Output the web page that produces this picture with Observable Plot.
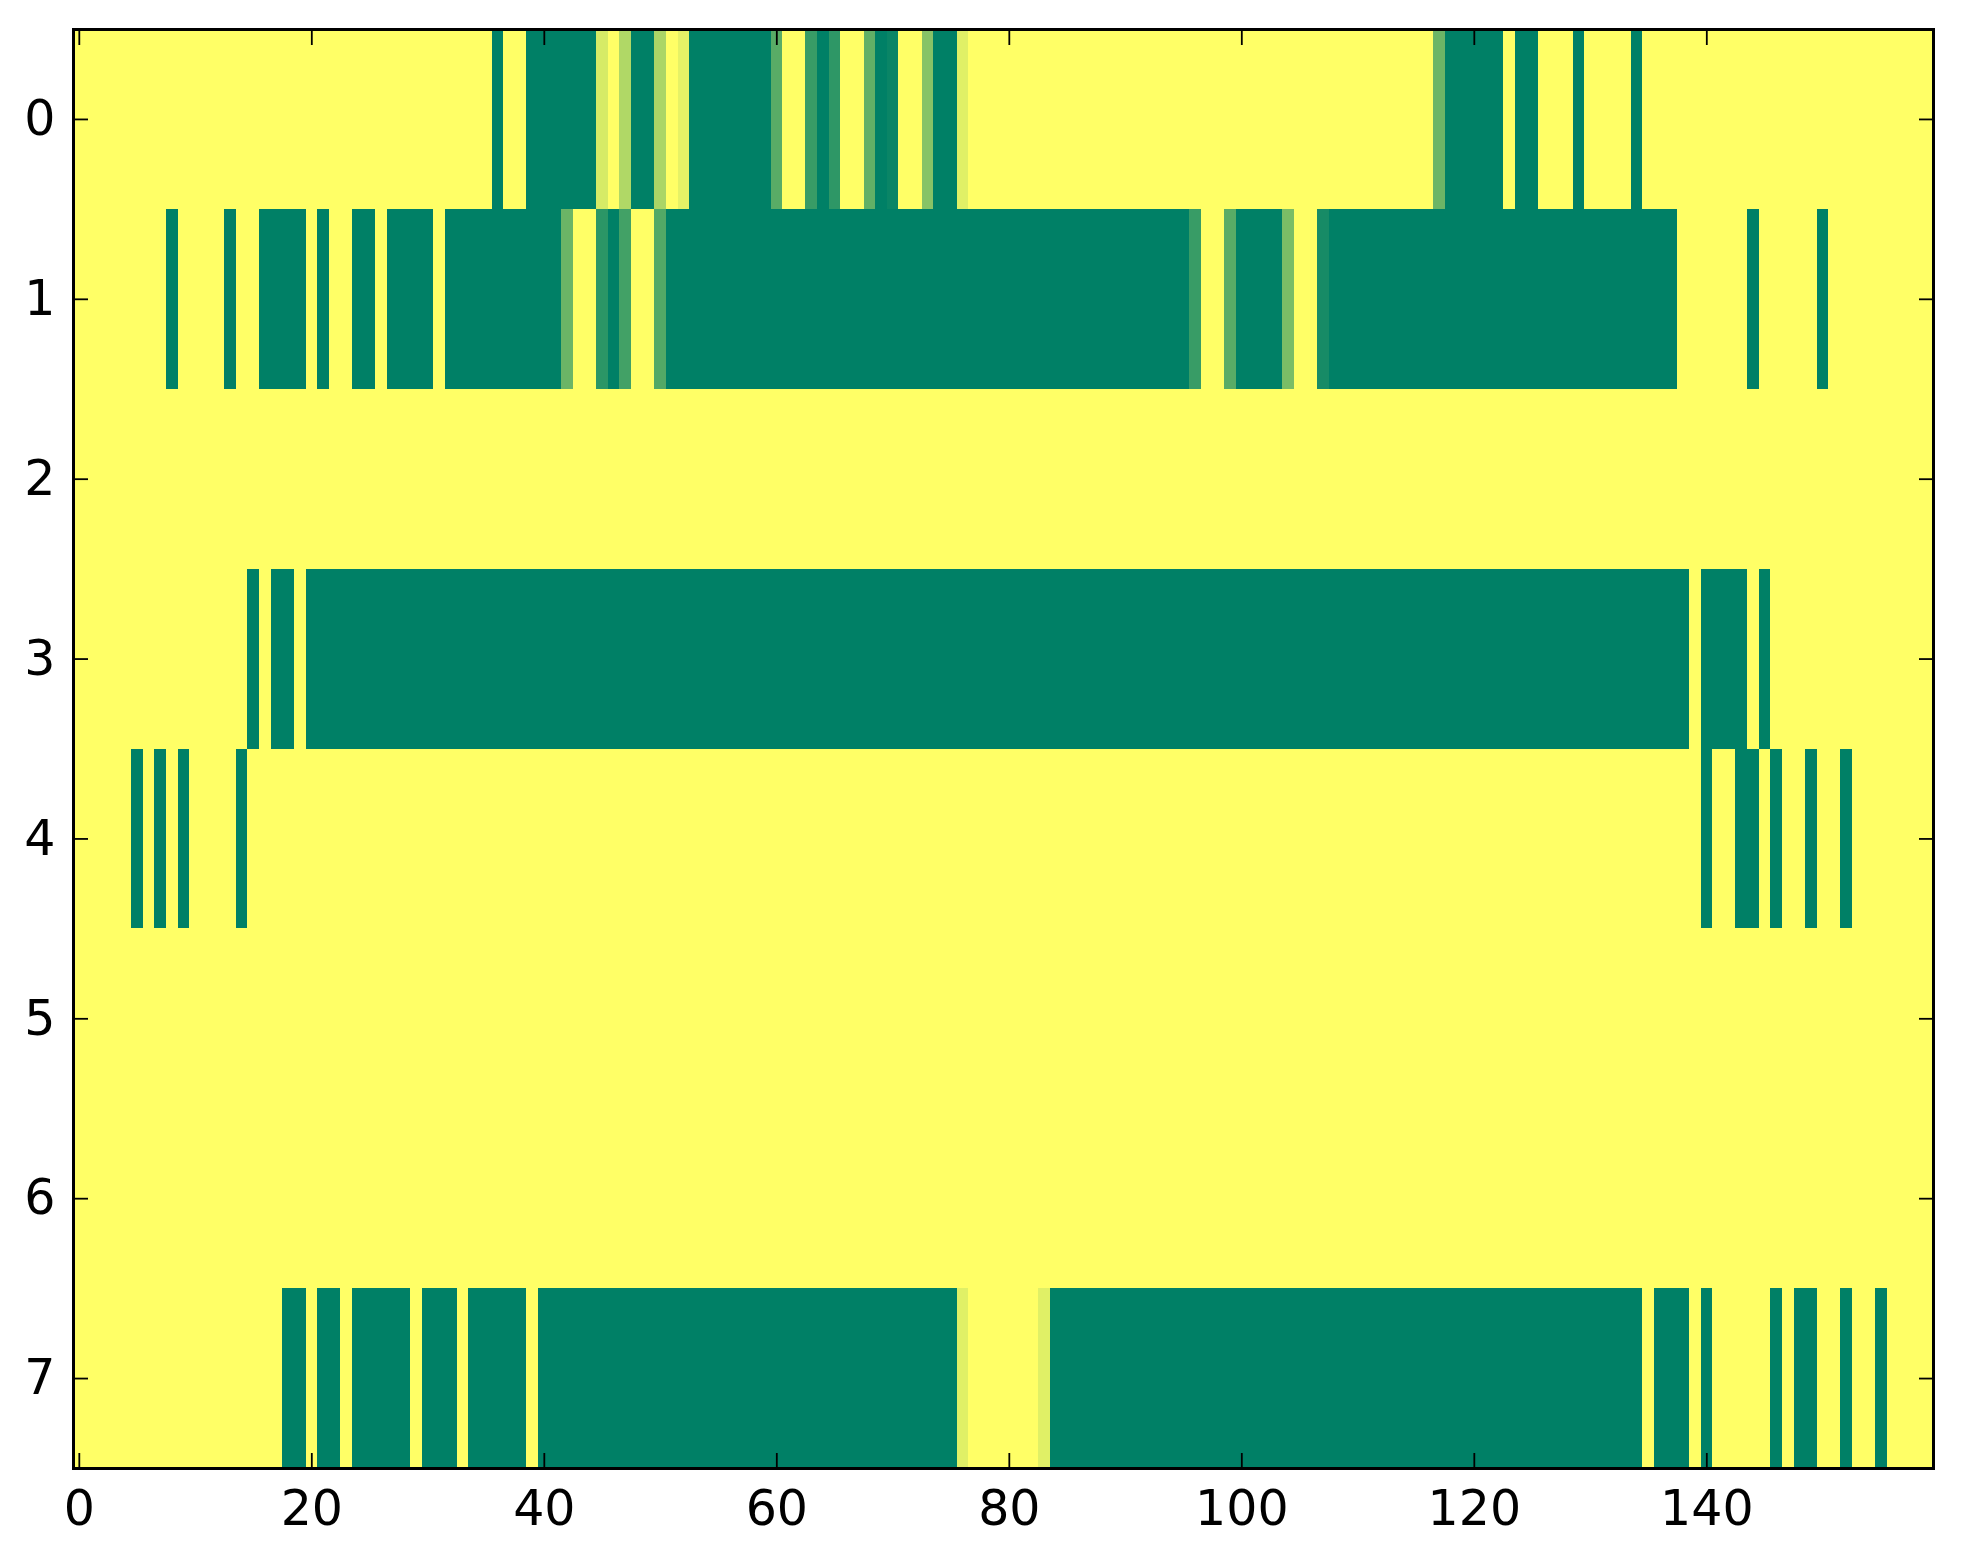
<!DOCTYPE html>
<html>
<head>
<meta charset="utf-8">
<script src="https://cdn.jsdelivr.net/npm/d3@7"></script>
<script src="https://cdn.jsdelivr.net/npm/@observablehq/plot@0.6"></script>
<style>
  html, body { margin: 0; padding: 0; background: #fff; }
</style>
</head>
<body>
<div id="chart"></div>
<script>
// One array per image row, 160 columns each (values 0..1, summer_r colormap)
const row0 = [
  0,0,0,0,0,0,0,0,0,0,0,0,0,0,0,0,0,0,0,0,
  0,0,0,0,0,0,0,0,0,0,0,0,0,0,0,0,1,0,0,1,
  1,1,1,1,1,0.16,0,0.31,1,1,0.33,0,0.10,1,1,1,1,1,1,1,
  0.65,0,0,0.78,1,0.82,0,0,0.62,1,0.96,0,0,0.47,1,1,0.12,0,0,0,
  0,0,0,0,0,0,0,0,0,0,0,0,0,0,0,0,0,0,0,0,
  0,0,0,0,0,0,0,0,0,0,0,0,0,0,0,0,0,0.58,1,1,
  1,1,1,0,1,1,0,0,0,1,0,0,0,0,1,0,0,0,0,0,
  0,0,0,0,0,0,0,0,0,0,0,0,0,0,0,0,0,0,0,0
];
const row1 = [
  0,0,0,0,0,0,0,0,1,0,0,0,0,1,0,0,1,1,1,1,
  0,1,0,0,1,1,0,1,1,1,1,0,1,1,1,1,1,1,1,1,
  1,1,0.58,0,0,0.83,1,0.74,0,0,0.68,1,1,1,1,1,1,1,1,1,
  1,1,1,1,1,1,1,1,1,1,1,1,1,1,1,1,1,1,1,1,
  1,1,1,1,1,1,1,1,1,1,1,1,1,1,1,1,0.78,0,0,0.65,
  1,1,1,1,0.52,0,0,0.91,1,1,1,1,1,1,1,1,1,1,1,1,
  1,1,1,1,1,1,1,1,1,1,1,1,1,1,1,1,1,1,0,0,
  0,0,0,0,1,0,0,0,0,0,1,0,0,0,0,0,0,0,0,0
];
const row2 = [
  0,0,0,0,0,0,0,0,0,0,0,0,0,0,0,0,0,0,0,0,
  0,0,0,0,0,0,0,0,0,0,0,0,0,0,0,0,0,0,0,0,
  0,0,0,0,0,0,0,0,0,0,0,0,0,0,0,0,0,0,0,0,
  0,0,0,0,0,0,0,0,0,0,0,0,0,0,0,0,0,0,0,0,
  0,0,0,0,0,0,0,0,0,0,0,0,0,0,0,0,0,0,0,0,
  0,0,0,0,0,0,0,0,0,0,0,0,0,0,0,0,0,0,0,0,
  0,0,0,0,0,0,0,0,0,0,0,0,0,0,0,0,0,0,0,0,
  0,0,0,0,0,0,0,0,0,0,0,0,0,0,0,0,0,0,0,0
];
const row3 = [
  0,0,0,0,0,0,0,0,0,0,0,0,0,0,0,1,0,1,1,0,
  1,1,1,1,1,1,1,1,1,1,1,1,1,1,1,1,1,1,1,1,
  1,1,1,1,1,1,1,1,1,1,1,1,1,1,1,1,1,1,1,1,
  1,1,1,1,1,1,1,1,1,1,1,1,1,1,1,1,1,1,1,1,
  1,1,1,1,1,1,1,1,1,1,1,1,1,1,1,1,1,1,1,1,
  1,1,1,1,1,1,1,1,1,1,1,1,1,1,1,1,1,1,1,1,
  1,1,1,1,1,1,1,1,1,1,1,1,1,1,1,1,1,1,1,0,
  1,1,1,1,0,1,0,0,0,0,0,0,0,0,0,0,0,0,0,0
];
const row4 = [
  0,0,0,0,0,1,0,1,0,1,0,0,0,0,1,0,0,0,0,0,
  0,0,0,0,0,0,0,0,0,0,0,0,0,0,0,0,0,0,0,0,
  0,0,0,0,0,0,0,0,0,0,0,0,0,0,0,0,0,0,0,0,
  0,0,0,0,0,0,0,0,0,0,0,0,0,0,0,0,0,0,0,0,
  0,0,0,0,0,0,0,0,0,0,0,0,0,0,0,0,0,0,0,0,
  0,0,0,0,0,0,0,0,0,0,0,0,0,0,0,0,0,0,0,0,
  0,0,0,0,0,0,0,0,0,0,0,0,0,0,0,0,0,0,0,0,
  1,0,0,1,1,0,1,0,0,1,0,0,1,0,0,0,0,0,0,0
];
const row5 = [
  0,0,0,0,0,0,0,0,0,0,0,0,0,0,0,0,0,0,0,0,
  0,0,0,0,0,0,0,0,0,0,0,0,0,0,0,0,0,0,0,0,
  0,0,0,0,0,0,0,0,0,0,0,0,0,0,0,0,0,0,0,0,
  0,0,0,0,0,0,0,0,0,0,0,0,0,0,0,0,0,0,0,0,
  0,0,0,0,0,0,0,0,0,0,0,0,0,0,0,0,0,0,0,0,
  0,0,0,0,0,0,0,0,0,0,0,0,0,0,0,0,0,0,0,0,
  0,0,0,0,0,0,0,0,0,0,0,0,0,0,0,0,0,0,0,0,
  0,0,0,0,0,0,0,0,0,0,0,0,0,0,0,0,0,0,0,0
];
const row6 = [
  0,0,0,0,0,0,0,0,0,0,0,0,0,0,0,0,0,0,0,0,
  0,0,0,0,0,0,0,0,0,0,0,0,0,0,0,0,0,0,0,0,
  0,0,0,0,0,0,0,0,0,0,0,0,0,0,0,0,0,0,0,0,
  0,0,0,0,0,0,0,0,0,0,0,0,0,0,0,0,0,0,0,0,
  0,0,0,0,0,0,0,0,0,0,0,0,0,0,0,0,0,0,0,0,
  0,0,0,0,0,0,0,0,0,0,0,0,0,0,0,0,0,0,0,0,
  0,0,0,0,0,0,0,0,0,0,0,0,0,0,0,0,0,0,0,0,
  0,0,0,0,0,0,0,0,0,0,0,0,0,0,0,0,0,0,0,0
];
const row7 = [
  0,0,0,0,0,0,0,0,0,0,0,0,0,0,0,0,0,0,1,1,
  0,1,1,0,1,1,1,1,1,0,1,1,1,0,1,1,1,1,1,0,
  1,1,1,1,1,1,1,1,1,1,1,1,1,1,1,1,1,1,1,1,
  1,1,1,1,1,1,1,1,1,1,1,1,1,1,1,1,0.12,0,0,0,
  0,0,0,0.12,1,1,1,1,1,1,1,1,1,1,1,1,1,1,1,1,
  1,1,1,1,1,1,1,1,1,1,1,1,1,1,1,1,1,1,1,1,
  1,1,1,1,1,1,1,1,1,1,1,1,1,1,1,0,1,1,1,0,
  1,0,0,0,0,0,1,0,1,1,0,0,1,0,0,1,0,0,0,0
];

const rows = [row0, row1, row2, row3, row4, row5, row6, row7];
const xTicks = [0, 20, 40, 60, 80, 100, 120, 140];
const yTicks = [0, 1, 2, 3, 4, 5, 6, 7];

const cells = rows.flatMap((row, r) => row.map((v, c) => ({row: r, col: c, value: v})));

const chart = Plot.plot({
  width: 1963,
  height: 1564,
  marginLeft: 73,
  marginRight: 30,
  marginTop: 29,
  marginBottom: 96,
  style: {fontFamily: "'DejaVu Sans', sans-serif", fontSize: "49px", background: "#fff", color: "#000"},
  x: {domain: [-0.5, 159.5]},
  y: {domain: [-0.5, 7.5], reverse: true},
  color: {type: "linear", domain: [0, 1], range: ["#ffff66", "#008066"], interpolate: "rgb"},
  marks: [
    Plot.rect(cells, {
      x1: d => d.col - 0.5, x2: d => d.col + 0.5,
      y1: d => d.row - 0.5, y2: d => d.row + 0.5,
      fill: "value", shapeRendering: "crispEdges"
    }),
    Plot.axisX(xTicks, {anchor: "bottom", tickSize: -15, tickPadding: 37, tickFormat: "d", strokeWidth: 1.8, label: null}),
    Plot.axisX(xTicks, {anchor: "top", tickSize: -15, tickFormat: () => "", strokeWidth: 1.8, label: null}),
    Plot.axisY(yTicks, {anchor: "left", tickSize: -15, tickPadding: 33, tickFormat: "d", strokeWidth: 1.8, label: null}),
    Plot.axisY(yTicks, {anchor: "right", tickSize: -15, tickFormat: () => "", strokeWidth: 1.8, label: null}),
    Plot.frame({stroke: "#000", strokeWidth: 3})
  ]
});
document.getElementById("chart").appendChild(chart);
</script>
</body>
</html>
